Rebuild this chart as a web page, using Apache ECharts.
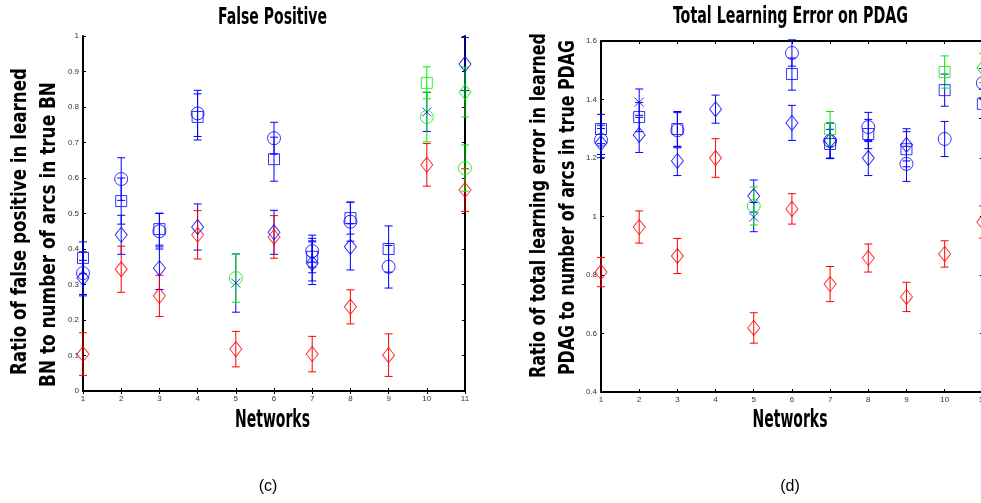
<!DOCTYPE html>
<html><head><meta charset="utf-8">
<script src="https://cdn.jsdelivr.net/npm/echarts@6/dist/echarts.min.js"></script>
<style>html,body{margin:0;padding:0;overflow:hidden;background:#fff}#c{width:990px;height:503px}</style>
</head><body><div id="c"></div>
<script>
const networks = [1,2,3,4,5,6,7,8,9,10,11];
const fpTicks = [0,0.1,0.2,0.3,0.4,0.5,0.6,0.7,0.8,0.9,1];
const teTicks = [0.4,0.6,0.8,1,1.2,1.4,1.6];

// (c) False Positive
const fpBlueCircle   = [0.332,0.597,0.450,0.782,null,0.712,0.394,0.477,0.350,null,null];
const fpBlueCircleE  = [0.060,0.060,0.050,0.065,null,0.045,0.045,0.055,0.060,null,null];
const fpBlueSquare   = [0.375,0.535,0.456,0.772,null,0.653,0.378,0.487,0.400,null,null];
const fpBlueSquareE  = [0.045,0.065,0.045,0.065,null,0.062,0.045,0.045,0.065,null,null];
const fpBlueCross    = [null,null,null,null,0.304,null,0.370,null,null,0.786,null];
const fpBlueCrossE   = [null,null,null,null,0.082,null,0.060,null,null,0.055,null];
const fpBlueDiamond  = [0.318,0.440,0.346,0.462,null,0.447,0.360,0.406,null,null,0.921];
const fpBlueDiamondE = [0.050,0.055,0.060,0.065,null,0.062,0.060,0.065,null,null,0.075];
const fpRedDiamond   = [0.104,0.343,0.268,0.440,0.118,0.434,0.104,0.237,0.101,0.637,0.566];
const fpRedDiamondE  = [0.060,0.065,0.058,0.068,0.050,0.060,0.050,0.048,0.060,0.060,0.060];
const fpGreenCircle  = [null,null,null,null,0.318,null,null,null,null,0.772,0.628];
const fpGreenCircleE = [null,null,null,null,0.068,null,null,null,null,0.070,0.065];
const fpGreenSquare  = [null,null,null,null,null,null,null,null,null,0.868,null];
const fpGreenSquareE = [null,null,null,null,null,null,null,null,null,0.045,null];
const fpGreenDiamond = [null,null,null,null,null,null,null,null,null,null,0.842];
const fpGreenDiamondE= [null,null,null,null,null,null,null,null,null,null,0.070];

// (d) Total Learning Error on PDAG
const teBlueCircle   = [1.262,null,1.295,null,null,1.559,1.258,1.306,1.180,1.265,1.456];
const teBlueCircleE  = [0.050,null,0.060,null,null,0.045,0.060,0.050,0.060,0.060,0.050];
const teBlueSquare   = [1.299,1.340,1.299,null,null,1.487,1.248,1.282,1.230,1.432,1.385];
const teBlueSquareE  = [0.050,0.050,0.060,null,null,0.055,0.050,0.050,0.060,0.055,0.050];
const teBlueCross    = [null,1.391,null,null,0.998,null,null,null,null,null,null];
const teBlueCrossE   = [null,0.045,null,null,0.050,null,null,null,null,null,null];
const teBlueDiamond  = [1.251,1.279,1.190,1.367,1.070,1.320,1.260,1.200,1.245,null,null];
const teBlueDiamondE = [0.050,0.060,0.050,0.048,0.055,0.060,0.060,0.060,0.055,null,null];
const teRedDiamond   = [0.810,0.964,0.865,1.200,0.619,1.026,0.769,0.858,0.725,0.872,0.981];
const teRedDiamondE  = [0.050,0.055,0.060,0.066,0.052,0.052,0.060,0.048,0.050,0.045,0.055];
const teGreenCircle  = [null,null,null,null,1.036,null,null,null,null,null,null];
const teGreenCircleE = [null,null,null,null,0.065,null,null,null,null,null,null];
const teGreenSquare  = [null,null,null,null,null,null,1.299,null,null,1.494,null];
const teGreenSquareE = [null,null,null,null,null,null,0.060,null,null,0.055,null];
const teGreenDiamond = [null,null,null,null,null,null,null,null,null,null,1.508];
const teGreenDiamondE= [null,null,null,null,null,null,null,null,null,null,0.050];

const BLUE='#0000ff', RED='#ff0000', GREEN='#00ee00';
const CROSS='path://M0,0L10,10M10,0L0,10';
const NARROW='"DejaVu Sans Condensed","DejaVu Sans",sans-serif';

function pair(gi, vals, errs, symbol, size, color){
  const pts=[], bars=[];
  vals.forEach((v,i)=>{ if(v==null) return; pts.push([networks[i], v]); bars.push([networks[i], v-errs[i], v+errs[i]]); });
  return [
    {type:'custom', xAxisIndex:gi*2, yAxisIndex:gi*2, data:bars, silent:true, z:2,
     encode:{x:0,y:[1,2]},
     renderItem:(p,api)=>{
       const x=api.value(0); const lo=api.coord([x,api.value(1)]); const hi=api.coord([x,api.value(2)]); const w=4;
       const st={stroke:color,lineWidth:1};
       return {type:'group',children:[
         {type:'line',shape:{x1:lo[0],y1:lo[1],x2:hi[0],y2:hi[1]},style:st},
         {type:'line',shape:{x1:lo[0]-w,y1:lo[1],x2:lo[0]+w,y2:lo[1]},style:st},
         {type:'line',shape:{x1:hi[0]-w,y1:hi[1],x2:hi[0]+w,y2:hi[1]},style:st}]};
     }},
    {type:'scatter', xAxisIndex:gi*2, yAxisIndex:gi*2, data:pts, symbol, symbolSize:size, silent:true, z:3,
     itemStyle:{color:'rgba(0,0,0,0)', borderColor:color, borderWidth:1}}
  ];
}

function groupSeries(gi, d){
  return [].concat(
    pair(gi,d[0],d[1],'circle',13,BLUE),
    pair(gi,d[2],d[3],'rect',11,BLUE),
    pair(gi,d[4],d[5],CROSS,9,BLUE),
    pair(gi,d[6],d[7],'diamond',[12,15],BLUE),
    pair(gi,d[8],d[9],'diamond',[12,15],RED),
    pair(gi,d[10],d[11],'circle',13,GREEN),
    pair(gi,d[12],d[13],'rect',11,GREEN),
    pair(gi,d[14],d[15],'diamond',[12,15],GREEN)
  );
}

const lbl={fontSize:8,color:'#333',fontFamily:'"Liberation Sans",Arial,sans-serif'};
const line={show:true,lineStyle:{color:'#000',width:2}};
function xAxes(gi){
  return [
    {gridIndex:gi,type:'value',min:1,max:11,interval:1,position:'bottom',axisLine:line,
     axisTick:{inside:true,length:3,lineStyle:{color:'#000'}},axisLabel:Object.assign({margin:4},lbl),splitLine:{show:false}},
    {gridIndex:gi,type:'value',min:1,max:11,interval:1,position:'top',axisLine:line,
     axisTick:{inside:true,length:3,lineStyle:{color:'#000'}},axisLabel:{show:false},splitLine:{show:false}}
  ];
}
function yAxes(gi,min,max,itv){
  return [
    {gridIndex:gi,type:'value',min,max,interval:itv,position:'left',axisLine:line,
     axisTick:{inside:true,length:3,lineStyle:{color:'#000'}},axisLabel:Object.assign({margin:4},lbl),splitLine:{show:false}},
    {gridIndex:gi,type:'value',min,max,interval:itv,position:'right',axisLine:line,
     axisTick:{inside:true,length:3,lineStyle:{color:'#000'}},axisLabel:{show:false},splitLine:{show:false}}
  ];
}

// condensed bold labels: horizontally squeezed to mimic the narrow original face
const mctx=document.createElement('canvas').getContext('2d');
function narrowText(text, size, cx, cy, targetLen, rotated){
  const font='bold '+size+'px '+NARROW;
  mctx.font=font;
  const s=targetLen/mctx.measureText(text).width;
  return {type:'text', x:cx, y:cy, rotation: rotated?Math.PI/2:0, scaleX:s, scaleY:1, originX:0, originY:0,
    style:{text, font, fill:'#000', textAlign:'center', textVerticalAlign:'middle'}, silent:true};
}

const chart=echarts.init(document.getElementById('c'),null,{renderer:'canvas'});
chart.setOption({
  animation:false,
  backgroundColor:'#fff',
  grid:[{left:83,top:36,width:382,height:355},{left:601,top:41,width:382,height:351}],
  xAxis:[].concat(xAxes(0),xAxes(1)),
  yAxis:[].concat(yAxes(0,fpTicks[0],fpTicks[fpTicks.length-1],0.1), yAxes(1,teTicks[0],teTicks[teTicks.length-1],0.2)),
  graphic:[
    narrowText('False Positive',23,272.5,18,109,false),
    narrowText('Total Learning Error on PDAG',23,790.5,17.5,235,false),
    narrowText('Networks',25,272.5,420,75,false),
    narrowText('Networks',25,790,420,75,false),
    narrowText('Ratio of false positive in learned',22,20.5,221.5,307,true),
    narrowText('BN to number of arcs in true BN',22,49,234.5,305,true),
    narrowText('Ratio of total learning error in learned',22,539,205.5,345,true),
    narrowText('PDAG to number of arcs in true PDAG',22,568.5,207.5,335,true),
    {type:'text',x:268,y:487,style:{text:'(c)',font:'16px "Liberation Sans",Arial,sans-serif',fill:'#000',textAlign:'center',textVerticalAlign:'middle'}},
    {type:'text',x:790,y:487,style:{text:'(d)',font:'16px "Liberation Sans",Arial,sans-serif',fill:'#000',textAlign:'center',textVerticalAlign:'middle'}}
  ],
  series:[].concat(
    groupSeries(0,[fpBlueCircle,fpBlueCircleE,fpBlueSquare,fpBlueSquareE,fpBlueCross,fpBlueCrossE,fpBlueDiamond,fpBlueDiamondE,fpRedDiamond,fpRedDiamondE,fpGreenCircle,fpGreenCircleE,fpGreenSquare,fpGreenSquareE,fpGreenDiamond,fpGreenDiamondE]),
    groupSeries(1,[teBlueCircle,teBlueCircleE,teBlueSquare,teBlueSquareE,teBlueCross,teBlueCrossE,teBlueDiamond,teBlueDiamondE,teRedDiamond,teRedDiamondE,teGreenCircle,teGreenCircleE,teGreenSquare,teGreenSquareE,teGreenDiamond,teGreenDiamondE])
  )
});
</script>
</body></html>
